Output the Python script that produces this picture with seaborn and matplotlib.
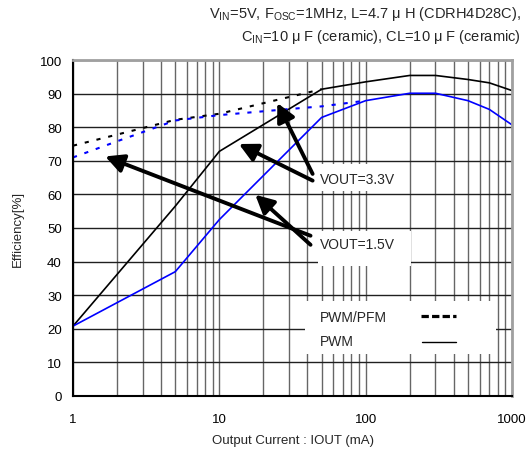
import pandas as pd
import seaborn as sns
import matplotlib.pyplot as plt
from matplotlib.patches import Rectangle

# load current (mA)
iout_pwm = [1, 5, 10, 50, 100, 200, 300, 500, 700, 1000]
eff_33_pwm = [20.8, 56.5, 72.8, 91.3, 93.5, 95.4, 95.4, 94.2, 93.2, 90.9]
eff_15_pwm = [20.8, 37.0, 52.5, 82.9, 87.9, 90.1, 90.1, 87.9, 85.3, 80.7]

iout_pfm_33 = [1, 2, 5, 10, 50]
eff_33_pfm = [74.5, 77.8, 82.2, 84.0, 91.3]
iout_pfm_15 = [1, 2, 5, 10, 30, 50, 100]
eff_15_pfm = [71.0, 75.8, 82.0, 83.6, 85.4, 86.2, 87.9]

xticks = [1, 10, 100, 1000]
xtick_labels = ['1', '10', '100', '1000']
yticks = list(range(0, 101, 10))

title_lines = [r'V$_\mathrm{IN}$=5V, F$_\mathrm{OSC}$=1MHz, L=4.7 μ H (CDRH4D28C),',
               r'C$_\mathrm{IN}$=10 μ F (ceramic), CL=10 μ F (ceramic)']
vout_labels = ['VOUT=3.3V', 'VOUT=1.5V']
legend_labels = ['PWM/PFM', 'PWM']

# arrows: (tip, tail) in data coords
arrows = [((24.9, 87.2), (43.4, 66.1)),
          ((13.6, 75.0), (43.4, 64.1)),
          ((1.66, 71.3), (42.0, 47.7)),
          ((17.6, 59.9), (42.0, 45.0))]

sns.set_theme(style='white')
plt.rcParams['font.family'] = ['Liberation Sans', 'DejaVu Sans']
plt.rcParams['mathtext.fontset'] = 'custom'
plt.rcParams['mathtext.rm'] = 'Liberation Sans'
plt.rcParams['mathtext.it'] = 'Liberation Sans'

fig = plt.figure(figsize=(5.28, 4.56), dpi=100)
ax = fig.add_axes([73/528, 1-397/456, 439/528, 336/456])
ax.set_xscale('log')
ax.set_xlim(1, 1000)
ax.set_ylim(0, 100)

ax.set_axisbelow(True)
ax.grid(True, which='both', axis='x', color='#666666', lw=1.0)
ax.grid(True, which='major', axis='y', color='#202020', lw=1.0)

# white boxes that hide the grid behind the labels
for (x0, x1, y0, y1) in [(43.4, 190, 61.0, 69.0), (46.9, 203, 38.7, 49.1), (38.8, 778, 12.5, 28.3)]:
    ax.add_patch(Rectangle((x0, y0), x1 - x0, y1 - y0, facecolor='white', edgecolor='none', zorder=1))

sns.lineplot(x=iout_pwm, y=eff_33_pwm, ax=ax, color='black', lw=1.2, sort=False)
sns.lineplot(x=iout_pwm, y=eff_15_pwm, ax=ax, color='#0000ff', lw=1.2, sort=False)
sns.lineplot(x=iout_pfm_33, y=eff_33_pfm, ax=ax, color='black', lw=1.5, sort=False).lines[-1].set_dashes((2, 3.8))
sns.lineplot(x=iout_pfm_15, y=eff_15_pfm, ax=ax, color='#0000ff', lw=1.5, sort=False).lines[-1].set_dashes((2, 3.8))

for tip, tail in arrows:
    ax.annotate('', xy=tip, xytext=tail,
                arrowprops=dict(arrowstyle='-|>,head_length=0.55,head_width=0.28', lw=2.8, color='black',
                                mutation_scale=20, shrinkA=0, shrinkB=0), zorder=3)

ax.text(49, 64.6, vout_labels[0], fontsize=10, va='center', ha='left')
ax.text(49, 45.3, vout_labels[1], fontsize=10, va='center', ha='left')

# hand-drawn legend
ax.text(49, 23.4, legend_labels[0], fontsize=10, va='center', ha='left')
ax.text(49, 16.4, legend_labels[1], fontsize=10, va='center', ha='left')
ax.plot([237, 415], [23.7, 23.7], color='black', lw=2.3, dashes=(2.3, 1.0))
ax.plot([243, 415], [16.2, 16.2], color='black', lw=1.0)

ax.set_xticks(xticks, labels=xtick_labels)
ax.set_yticks(yticks)
ax.minorticks_on()
ax.yaxis.set_minor_locator(plt.NullLocator())
ax.tick_params(which='both', length=0, labelsize=9.5, colors='black')
ax.tick_params(axis='x', pad=12)
ax.tick_params(axis='y', pad=8)
ax.xaxis.set_minor_formatter(plt.NullFormatter())

for side in ['left', 'bottom']:
    ax.spines[side].set_color('black')
    ax.spines[side].set_linewidth(1.5)
for side in ['top', 'right']:
    ax.spines[side].set_color('#a0a0a0')
    ax.spines[side].set_linewidth(2.0)

ax.set_xlabel('Output Current : IOUT (mA)', fontsize=9.5)
ax.set_ylabel('Efficiency[%]', fontsize=9.5)
ax.xaxis.set_label_coords(0.5, -0.112)
ax.yaxis.set_label_coords(-0.112, 0.5)

fig.text(521/528, 1-14/456, title_lines[0], ha='right', va='center', fontsize=10.5)
fig.text(521/528, 1-37/456, title_lines[1], ha='right', va='center', fontsize=10.5)

fig.savefig('out.png', dpi=100)
